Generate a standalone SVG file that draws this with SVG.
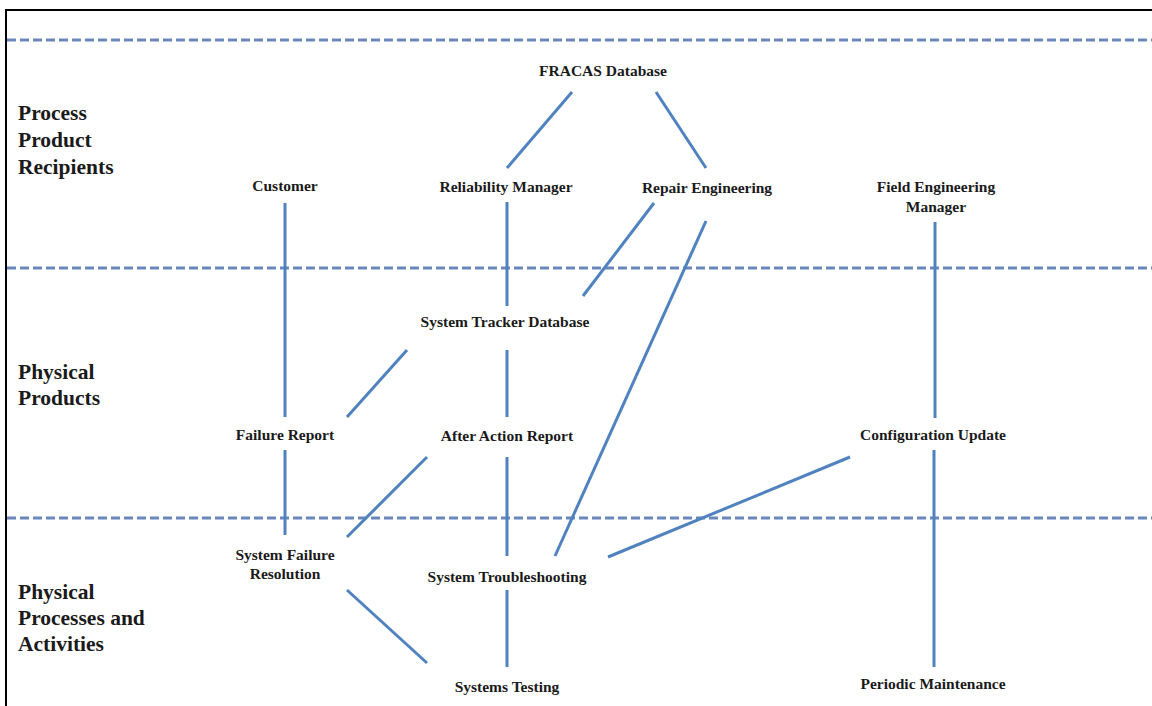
<svg xmlns="http://www.w3.org/2000/svg" width="1152" height="706" viewBox="0 0 1152 706">
<style>
.lane{font-family:"Liberation Serif","Times New Roman",serif;font-weight:bold;font-size:21.5px;fill:#1a1a1a}
.lbl{font-family:"Liberation Serif","Times New Roman",serif;font-weight:bold;font-size:15.5px;fill:#1a1a1a;text-anchor:middle}
.dash{stroke:#6a86bb;stroke-width:3;stroke-dasharray:9 4;fill:none}
.conn line{stroke:#4f82bf;stroke-width:3;stroke-linecap:butt}
</style>
<rect width="1152" height="706" fill="#ffffff"/>
<polyline points="6,706 6,10 1152,10" fill="none" stroke="#000" stroke-width="2"/>
<g id="lanes">
<line class="dash" x1="7" y1="40" x2="1152" y2="40"/>
<line class="dash" x1="7" y1="268" x2="1152" y2="268"/>
<line class="dash" x1="7" y1="518" x2="1152" y2="518"/>
<text class="lane" x="18" y="120">Process</text>
<text class="lane" x="18" y="147">Product</text>
<text class="lane" x="18" y="174">Recipients</text>
<text class="lane" x="18" y="379">Physical</text>
<text class="lane" x="18" y="405">Products</text>
<text class="lane" x="18" y="599">Physical</text>
<text class="lane" x="18" y="625">Processes and</text>
<text class="lane" x="18" y="651">Activities</text>
</g>
<g id="connectors" class="conn">
<line x1="572" y1="92" x2="507" y2="168"/>
<line x1="656" y1="92" x2="706" y2="168"/>
<line x1="285" y1="203" x2="285" y2="417"/>
<line x1="285" y1="450" x2="285" y2="535"/>
<line x1="507" y1="202" x2="507" y2="306"/>
<line x1="654" y1="203" x2="583" y2="296"/>
<line x1="706" y1="221" x2="555" y2="556"/>
<line x1="935" y1="222" x2="935" y2="418"/>
<line x1="934" y1="450" x2="934" y2="667"/>
<line x1="407" y1="350" x2="347" y2="417"/>
<line x1="507" y1="350" x2="507" y2="417"/>
<line x1="427" y1="457" x2="347" y2="537"/>
<line x1="507" y1="457" x2="507" y2="556"/>
<line x1="850" y1="457" x2="608" y2="557"/>
<line x1="347" y1="590" x2="427" y2="663"/>
<line x1="507" y1="590" x2="507" y2="667"/>
</g>
<g id="fracas"><text class="lbl" x="603" y="76">FRACAS Database</text></g>
<g id="customer"><text class="lbl" x="285" y="191">Customer</text></g>
<g id="reliability"><text class="lbl" x="506" y="192">Reliability Manager</text></g>
<g id="repair"><text class="lbl" x="707" y="193">Repair Engineering</text></g>
<g id="fieldeng"><text class="lbl" x="936" y="192">Field Engineering</text><text class="lbl" x="936" y="212">Manager</text></g>
<g id="tracker"><text class="lbl" x="505" y="327">System Tracker Database</text></g>
<g id="failurereport"><text class="lbl" x="285" y="440">Failure Report</text></g>
<g id="afteraction"><text class="lbl" x="507" y="441">After Action Report</text></g>
<g id="configupdate"><text class="lbl" x="933" y="440">Configuration Update</text></g>
<g id="sysfailres"><text class="lbl" x="285" y="560">System Failure</text><text class="lbl" x="285" y="579">Resolution</text></g>
<g id="troubleshoot"><text class="lbl" x="507" y="582">System Troubleshooting</text></g>
<g id="testing"><text class="lbl" x="507" y="692">Systems Testing</text></g>
<g id="maintenance"><text class="lbl" x="933" y="689">Periodic Maintenance</text></g>
</svg>
